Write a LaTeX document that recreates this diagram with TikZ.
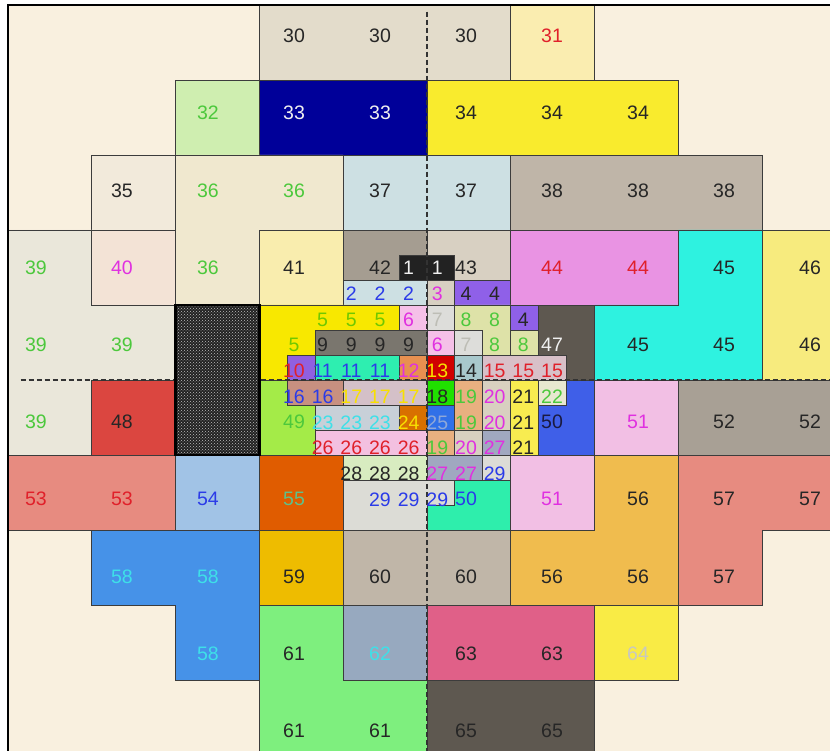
\documentclass[tikz,border=0pt]{standalone}
\usepackage{fontspec}
\setmainfont{Liberation Sans}
\usetikzlibrary{patterns}
\definecolor{bgc}{HTML}{F9F0DF}
\definecolor{bd}{HTML}{3C3C3C}
\definecolor{c30}{HTML}{E3DCCB}
\definecolor{c31}{HTML}{FAEDB0}
\definecolor{c32}{HTML}{CFEEB0}
\definecolor{c33}{HTML}{000099}
\definecolor{c34}{HTML}{F9EB2D}
\definecolor{c35}{HTML}{F2EADB}
\definecolor{c36}{HTML}{F0E8CF}
\definecolor{c37}{HTML}{CDE0E3}
\definecolor{c38}{HTML}{BFB5A8}
\definecolor{c39}{HTML}{EAE7DA}
\definecolor{c40}{HTML}{F3E3D6}
\definecolor{c41}{HTML}{F9EDAE}
\definecolor{c42}{HTML}{A59D91}
\definecolor{c43}{HTML}{D8D0C2}
\definecolor{c44}{HTML}{E993E3}
\definecolor{c45}{HTML}{2EF2E0}
\definecolor{c46}{HTML}{F7EB7E}
\definecolor{c47}{HTML}{5E5850}
\definecolor{c48}{HTML}{DB4640}
\definecolor{c49}{HTML}{A4EB48}
\definecolor{c50b}{HTML}{3F5FE8}
\definecolor{c50g}{HTML}{2EEEAC}
\definecolor{c51}{HTML}{F2BFE4}
\definecolor{c52}{HTML}{A8A095}
\definecolor{c53}{HTML}{E78B80}
\definecolor{c54}{HTML}{A1C3E6}
\definecolor{c55}{HTML}{E05C00}
\definecolor{c56}{HTML}{F0BC4E}
\definecolor{c57}{HTML}{E78B80}
\definecolor{c58}{HTML}{4692E8}
\definecolor{c59}{HTML}{EEBC00}
\definecolor{c60}{HTML}{C0B6A8}
\definecolor{c61}{HTML}{7EEF7E}
\definecolor{c62}{HTML}{97A9BF}
\definecolor{c63}{HTML}{E06088}
\definecolor{c64}{HTML}{F9EB45}
\definecolor{c65}{HTML}{5E5850}
\definecolor{cdot}{HTML}{222222}
\definecolor{s1}{HTML}{222222}
\definecolor{s2}{HTML}{CDE0E3}
\definecolor{s3}{HTML}{D8D0C2}
\definecolor{s4}{HTML}{8F60E8}
\definecolor{s5}{HTML}{F8E800}
\definecolor{s6}{HTML}{F5C0E8}
\definecolor{s7}{HTML}{DDDDDA}
\definecolor{s8}{HTML}{DEE2A8}
\definecolor{s9}{HTML}{7A766E}
\definecolor{s10}{HTML}{9060E0}
\definecolor{s11}{HTML}{2EEEB0}
\definecolor{s12}{HTML}{E89050}
\definecolor{s13}{HTML}{D00000}
\definecolor{s14}{HTML}{A8C8CC}
\definecolor{s15}{HTML}{D8C0C8}
\definecolor{s16}{HTML}{C89080}
\definecolor{s17}{HTML}{D4C0C8}
\definecolor{s18}{HTML}{20E000}
\definecolor{s19}{HTML}{E8B080}
\definecolor{s20}{HTML}{D8D0C0}
\definecolor{s21}{HTML}{F8EC50}
\definecolor{s22}{HTML}{E8E8D0}
\definecolor{s23}{HTML}{C8D0D8}
\definecolor{s24}{HTML}{D87000}
\definecolor{s25}{HTML}{3070E8}
\definecolor{s26}{HTML}{F3C0E0}
\definecolor{s27}{HTML}{A0A8C0}
\definecolor{s28}{HTML}{D8ECC0}
\definecolor{s29}{HTML}{DCDCD6}
\definecolor{tdk}{HTML}{262626}
\definecolor{tgr}{HTML}{4CC83C}
\definecolor{tyg}{HTML}{70C800}
\definecolor{tred}{HTML}{E0202A}
\definecolor{tmag}{HTML}{E030E0}
\definecolor{tblu}{HTML}{2B3BE8}
\definecolor{tcy}{HTML}{3EE0E8}
\definecolor{twh}{HTML}{F0F0F0}
\definecolor{tyel}{HTML}{F8E000}
\definecolor{tff}{HTML}{5EC08A}
\definecolor{tsf}{HTML}{C8C8C0}
\definecolor{tsv}{HTML}{BDBDB5}
\definecolor{ttf}{HTML}{8FA8D8}
\definecolor{tnv}{HTML}{1A1A40}
\newcounter{nn}
\newcommand\lb[4]{\stepcounter{nn}\node[lbl,text=#4] (n\arabic{nn}) at (#1,#2) {#3};}
\newcommand\rc[5]{\path[reg,fill=#5] (#1,#2) rectangle (#3,#4);}
\begin{document}
\begin{tikzpicture}[
  reg/.style={draw=bd, line width=0.9pt, line join=miter},
  lbl/.style={inner sep=0pt, font=\fontsize{19.5}{20}\selectfont},
  dsh/.style={draw=black!80, line width=1.3pt, dash pattern=on 5pt off 3pt}
]
\useasboundingbox (0,0) rectangle (830pt,-751pt);
\clip (0,0) rectangle (830pt,-751pt);
\fill[white] (0,0) rectangle (830pt,-751pt);
% big grid
\begin{scope}[x=83.8pt,y=-75pt,shift={(8pt,-5pt)}]
\fill[bgc] (0,0) rectangle (10,10);
\rc{3}{0}{6}{1}{c30}
\rc{6}{0}{7}{1}{c31}
\rc{2}{1}{3}{2}{c32}
\rc{3}{1}{5}{2}{c33}
\rc{5}{1}{8}{2}{c34}
\rc{1}{2}{2}{3}{c35}
\path[reg,fill=c36] (2,2) -- (4,2) -- (4,3) -- (3,3) -- (3,4) -- (2,4) -- cycle;
\rc{4}{2}{6}{3}{c37}
\rc{6}{2}{9}{3}{c38}
\path[reg,fill=c39] (0,3) -- (1,3) -- (1,4) -- (2,4) -- (2,5) -- (1,5) -- (1,6) -- (0,6) -- cycle;
\rc{1}{3}{2}{4}{c40}
\rc{3}{3}{4}{4}{c41}
\rc{4}{3}{5}{4}{c42}
\rc{5}{3}{6}{4}{c43}
\rc{6}{3}{8}{4}{c44}
\path[reg,fill=c45] (8,3) -- (9,3) -- (9,5) -- (7,5) -- (7,4) -- (8,4) -- cycle;
\rc{9}{3}{10}{5}{c46}
\rc{6}{4}{7}{5}{c47}
\rc{1}{5}{2}{6}{c48}
\rc{3}{5}{4}{6}{c49}
\rc{6}{5}{7}{6}{c50b}
\rc{7}{5}{8}{6}{c51}
\rc{8}{5}{10}{6}{c52}
\rc{0}{6}{2}{7}{c53}
\rc{2}{6}{3}{7}{c54}
\rc{3}{6}{4}{7}{c55}
\rc{5}{6}{6}{7}{c50g}
\rc{6}{6}{7}{7}{c51}
\path[reg,fill=c56] (7,6) -- (8,6) -- (8,8) -- (6,8) -- (6,7) -- (7,7) -- cycle;
\path[reg,fill=c57] (8,6) -- (10,6) -- (10,7) -- (9,7) -- (9,8) -- (8,8) -- cycle;
\path[reg,fill=c58] (1,7) -- (3,7) -- (3,9) -- (2,9) -- (2,8) -- (1,8) -- cycle;
\rc{3}{7}{4}{8}{c59}
\rc{4}{7}{6}{8}{c60}
\path[reg,fill=c61] (3,8) -- (4,8) -- (4,9) -- (5,9) -- (5,10) -- (3,10) -- cycle;
\rc{4}{8}{5}{9}{c62}
\rc{5}{8}{7}{9}{c63}
\rc{7}{8}{8}{9}{c64}
\rc{5}{9}{7}{10}{c65}
\end{scope}
% sub grid
\begin{scope}[x=27.933pt,y=-25pt,shift={(259.4pt,-230pt)}]
\rc{5}{1}{7}{2}{s1}
\rc{3}{2}{6}{3}{s2}
\rc{6}{2}{7}{3}{s3}
\rc{7}{2}{9}{3}{s4}
\path[reg,fill=s5] (0,3) -- (5,3) -- (5,4) -- (2,4) -- (2,5) -- (1,5) -- (1,6) -- (0,6) -- cycle;
\rc{5}{3}{6}{4}{s6}
\rc{6}{3}{7}{4}{s7}
\path[reg,fill=s8] (7,3) -- (9,3) -- (9,5) -- (8,5) -- (8,4) -- (7,4) -- cycle;
\rc{9}{3}{10}{4}{s4}
\rc{2}{4}{6}{5}{s9}
\rc{6}{4}{7}{5}{s6}
\rc{7}{4}{8}{5}{s7}
\rc{9}{4}{10}{5}{s8}
\rc{1}{5}{2}{6}{s10}
\rc{2}{5}{5}{6}{s11}
\rc{5}{5}{6}{6}{s12}
\rc{6}{5}{7}{6}{s13}
\rc{7}{5}{8}{6}{s14}
\rc{8}{5}{11}{6}{s15}
\rc{1}{6}{3}{7}{s16}
\rc{3}{6}{6}{7}{s17}
\rc{6}{6}{7}{7}{s18}
\rc{7}{6}{8}{8}{s19}
\rc{8}{6}{9}{8}{s20}
\rc{9}{6}{10}{9}{s21}
\rc{10}{6}{11}{7}{s22}
\rc{2}{7}{5}{8}{s23}
\rc{5}{7}{6}{8}{s24}
\rc{6}{7}{7}{8}{s25}
\rc{2}{8}{6}{9}{s26}
\rc{6}{8}{7}{9}{s19}
\rc{7}{8}{8}{9}{s20}
\rc{8}{8}{9}{9}{s27}
\rc{3}{9}{6}{10}{s28}
\path[reg,fill=s29] (3,10) -- (7,10) -- (7,11) -- (6,11) -- (6,12) -- (3,12) -- cycle;
\rc{6}{9}{8}{10}{s27}
\rc{8}{9}{9}{10}{s29}
\end{scope}
% dashed axes, dotted block and frame
\begin{scope}[x=83.8pt,y=-75pt,shift={(8pt,-5pt)}]
\draw[dsh] (5,0.09) -- (5,10);
\draw[dsh] (0.15,5) -- (10,5);
\fill[cdot] (2,4) rectangle (3,6);
\fill[pattern=crosshatch dots, pattern color=gray!50] (2,4) rectangle (3,6);
\draw[black, line width=2.6pt] (2,4) rectangle (3,6);
\draw[black, line width=1.2pt] (0,0) rectangle (10,10);
\end{scope}
% big labels
\begin{scope}[x=86pt,y=-77.2pt,shift={(36pt,-36pt)}]
\lb{3}{0}{30}{tdk} \lb{4}{0}{30}{tdk} \lb{5}{0}{30}{tdk} \lb{6}{0}{31}{tred}
\lb{2}{1}{32}{tgr} \lb{3}{1}{33}{twh} \lb{4}{1}{33}{twh} \lb{5}{1}{34}{tdk} \lb{6}{1}{34}{tdk} \lb{7}{1}{34}{tdk}
\lb{1}{2}{35}{tdk} \lb{2}{2}{36}{tgr} \lb{3}{2}{36}{tgr} \lb{4}{2}{37}{tdk} \lb{5}{2}{37}{tdk} \lb{6}{2}{38}{tdk} \lb{7}{2}{38}{tdk} \lb{8}{2}{38}{tdk}
\lb{0}{3}{39}{tgr} \lb{1}{3}{40}{tmag} \lb{2}{3}{36}{tgr} \lb{3}{3}{41}{tdk} \lb{4}{3}{42}{tdk} \lb{5}{3}{43}{tdk} \lb{6}{3}{44}{tred} \lb{7}{3}{44}{tred} \lb{8}{3}{45}{tdk} \lb{9}{3}{46}{tdk}
\lb{0}{4}{39}{tgr} \lb{1}{4}{39}{tgr} \lb{3}{4}{5}{tyg} \lb{6}{4}{47}{twh} \lb{7}{4}{45}{tdk} \lb{8}{4}{45}{tdk} \lb{9}{4}{46}{tdk}
\lb{0}{5}{39}{tgr} \lb{1}{5}{48}{tdk} \lb{3}{5}{49}{tgr} \lb{6}{5}{50}{tnv} \lb{7}{5}{51}{tmag} \lb{8}{5}{52}{tdk} \lb{9}{5}{52}{tdk}
\lb{0}{6}{53}{tred} \lb{1}{6}{53}{tred} \lb{2}{6}{54}{tblu} \lb{3}{6}{55}{tff} \lb{5}{6}{50}{tblu} \lb{6}{6}{51}{tmag} \lb{7}{6}{56}{tdk} \lb{8}{6}{57}{tdk} \lb{9}{6}{57}{tdk}
\lb{1}{7}{58}{tcy} \lb{2}{7}{58}{tcy} \lb{3}{7}{59}{tdk} \lb{4}{7}{60}{tdk} \lb{5}{7}{60}{tdk} \lb{6}{7}{56}{tdk} \lb{7}{7}{56}{tdk} \lb{8}{7}{57}{tdk}
\lb{2}{8}{58}{tcy} \lb{3}{8}{61}{tdk} \lb{4}{8}{62}{tcy} \lb{5}{8}{63}{tdk} \lb{6}{8}{63}{tdk} \lb{7}{8}{64}{tsf}
\lb{3}{9}{61}{tdk} \lb{4}{9}{61}{tdk} \lb{5}{9}{65}{tdk} \lb{6}{9}{65}{tdk}
\end{scope}
% small labels
\begin{scope}[x=28.667pt,y=-25.733pt,shift={(265.33pt,-242.27pt)}]
\lb{5}{1}{1}{twh} \lb{6}{1}{1}{twh}
\lb{3}{2}{2}{tblu} \lb{4}{2}{2}{tblu} \lb{5}{2}{2}{tblu} \lb{6}{2}{3}{tmag} \lb{7}{2}{4}{tdk} \lb{8}{2}{4}{tdk}
\lb{2}{3}{5}{tyg} \lb{3}{3}{5}{tyg} \lb{4}{3}{5}{tyg} \lb{5}{3}{6}{tmag} \lb{6}{3}{7}{tsv} \lb{7}{3}{8}{tgr} \lb{8}{3}{8}{tgr} \lb{9}{3}{4}{tdk}
\lb{2}{4}{9}{tdk} \lb{3}{4}{9}{tdk} \lb{4}{4}{9}{tdk} \lb{5}{4}{9}{tdk} \lb{6}{4}{6}{tmag} \lb{7}{4}{7}{tsv} \lb{8}{4}{8}{tgr} \lb{9}{4}{8}{tgr}
\lb{1}{5}{10}{tred} \lb{2}{5}{11}{tblu} \lb{3}{5}{11}{tblu} \lb{4}{5}{11}{tblu} \lb{5}{5}{12}{tmag} \lb{6}{5}{13}{tyel} \lb{7}{5}{14}{tdk} \lb{8}{5}{15}{tred} \lb{9}{5}{15}{tred} \lb{10}{5}{15}{tred}
\lb{1}{6}{16}{tblu} \lb{2}{6}{16}{tblu} \lb{3}{6}{17}{tyel} \lb{4}{6}{17}{tyel} \lb{5}{6}{17}{tyel} \lb{6}{6}{18}{tdk} \lb{7}{6}{19}{tgr} \lb{8}{6}{20}{tmag} \lb{9}{6}{21}{tdk} \lb{10}{6}{22}{tgr}
\lb{2}{7}{23}{tcy} \lb{3}{7}{23}{tcy} \lb{4}{7}{23}{tcy} \lb{5}{7}{24}{tyel} \lb{6}{7}{25}{ttf} \lb{7}{7}{19}{tgr} \lb{8}{7}{20}{tmag} \lb{9}{7}{21}{tdk}
\lb{2}{8}{26}{tred} \lb{3}{8}{26}{tred} \lb{4}{8}{26}{tred} \lb{5}{8}{26}{tred} \lb{6}{8}{19}{tgr} \lb{7}{8}{20}{tmag} \lb{8}{8}{27}{tmag} \lb{9}{8}{21}{tdk}
\lb{3}{9}{28}{tdk} \lb{4}{9}{28}{tdk} \lb{5}{9}{28}{tdk} \lb{6}{9}{27}{tmag} \lb{7}{9}{27}{tmag} \lb{8}{9}{29}{tblu}
\lb{4}{10}{29}{tblu} \lb{5}{10}{29}{tblu} \lb{6}{10}{29}{tblu}
\end{scope}
\end{tikzpicture}
\end{document}
